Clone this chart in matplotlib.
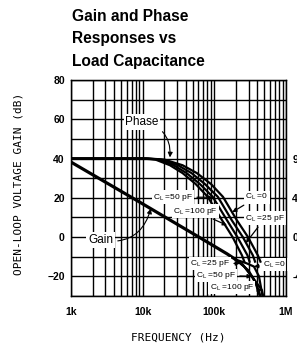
import matplotlib
matplotlib.use("Agg")
import matplotlib.pyplot as plt
from matplotlib.ticker import FixedLocator, NullFormatter, LogLocator

# ── Data ─────────────────────────────────────────────────────────────────────
title_lines = ["Gain and Phase", "Responses vs", "Load Capacitance"]

x_ticks       = [1e3, 1e4, 1e5, 1e6]
x_tick_labels = ["1k", "10k", "100k", "1M"]
y_ticks       = [-20, 0, 20, 40, 60, 80]
phase_ticks   = [40, 20, 0, -20]          # left-axis position of phase labels
phase_labels  = ["90", "45", "0", "-45"]

# common open-loop gain line (dB)
gain_f  = [1e3, 9e3, 61e3, 150e3, 200e3]
gain_db = [38.2, 17.9, 0.0, -8.5, -11.5]

# gain roll-off for each load capacitance
gain_f_0    = [200e3, 280e3, 357e3, 420e3, 470e3]
gain_db_0   = [-11.5, -13.3, -15.0, -20.0, -30.0]
gain_f_25   = [200e3, 228e3, 300e3, 370e3, 430e3]
gain_db_25  = [-11.5, -13.2, -17.0, -22.5, -30.0]
gain_f_50   = [200e3, 250e3, 333e3, 390e3, 440e3]
gain_db_50  = [-11.5, -14.0, -20.0, -24.5, -30.0]
gain_f_100  = [200e3, 260e3, 350e3, 461e3, 480e3]
gain_db_100 = [-11.5, -15.0, -21.0, -27.0, -30.0]

# phase curves, plotted on the left scale (90 deg = 40 dB, 45 deg = 20 dB)
phase_db    = [40, 40, 39.5, 36.6, 32.6, 27.0, 20.5, 8.6, 0.0, -9.3, -12.5]
phase_f_0   = [1e3, 12e3, 20e3, 36e3, 57e3, 90e3, 132e3, 206e3, 295e3, 405e3, 440e3]
phase_f_25  = [1e3, 11.5e3, 18e3, 31e3, 48e3, 74e3, 112e3, 175e3, 250e3, 345e3, 370e3]
phase_f_50  = [1e3, 11e3, 16.5e3, 27e3, 41e3, 63e3, 95e3, 150e3, 210e3, 290e3, 310e3]
phase_f_100 = [1e3, 10e3, 15e3, 24e3, 36e3, 55e3, 81e3, 128e3, 180e3, 243e3, 262e3]

# ── Figure ───────────────────────────────────────────────────────────────────
fig = plt.figure(figsize=(2.97, 3.5), dpi=100)
ax = fig.add_axes([71 / 297, 1 - 296 / 350, 215 / 297, 216 / 350])

ax.set_xscale("log")
ax.set_xlim(1e3, 1e6)
ax.set_ylim(-30, 80)

ax.xaxis.set_major_locator(FixedLocator(x_ticks))
ax.set_xticklabels(x_tick_labels)
ax.xaxis.set_minor_locator(LogLocator(base=10, subs=range(2, 10)))
ax.xaxis.set_minor_formatter(NullFormatter())
ax.yaxis.set_major_locator(FixedLocator(y_ticks))
ax.yaxis.set_minor_locator(FixedLocator(range(-30, 81, 10)))

ax.grid(which="both", color="black", linewidth=1.0)
ax.tick_params(which="both", length=0)
ax.tick_params(axis="x", pad=8)
ax.tick_params(axis="y", pad=4.5)
for lab in ax.get_xticklabels() + ax.get_yticklabels():
    lab.set_fontfamily("Liberation Sans")
    lab.set_fontweight("bold")
    lab.set_fontsize(7.5)
for sp in ax.spines.values():
    sp.set_linewidth(1.0)

ax2 = ax.twinx()
ax2.set_ylim(ax.get_ylim())
ax2.set_yticks(phase_ticks)
ax2.set_yticklabels(phase_labels, fontfamily="Liberation Sans",
                    fontweight="bold", fontsize=7.5)
ax2.tick_params(length=0, pad=4.5)

# ── Curves ───────────────────────────────────────────────────────────────────
ax.plot(gain_f, gain_db, color="black", linewidth=2.3, solid_capstyle="butt")
for f, db in [(gain_f_0, gain_db_0), (gain_f_25, gain_db_25),
              (gain_f_50, gain_db_50), (gain_f_100, gain_db_100)]:
    ax.plot(f, db, color="black", linewidth=1.6)
for f in [phase_f_0, phase_f_25, phase_f_50, phase_f_100]:
    ax.plot(f, phase_db, color="black", linewidth=1.6)

# ── Labels & arrows ──────────────────────────────────────────────────────────
box = dict(boxstyle="square,pad=0.15", facecolor="white", edgecolor="none")
lab_font = dict(family="Liberation Sans", fontsize=8.5, zorder=5)

ax.annotate("Phase", xy=(24e3, 40.6), xytext=(9.8e3, 58.6), ha="center",
            va="center", bbox=box, **lab_font,
            arrowprops=dict(arrowstyle="-|>", color="black", lw=0.8,
                            connectionstyle="arc3,rad=-0.45", shrinkB=0,
                            mutation_scale=7))
ax.annotate("Gain", xy=(13e3, 14.5), xytext=(2.6e3, -1.6), ha="center",
            va="center", bbox=box, **lab_font,
            arrowprops=dict(arrowstyle="-|>", color="black", lw=0.8,
                            connectionstyle="arc3,rad=0.45", shrinkB=0,
                            mutation_scale=7))

cl_font = dict(family="Liberation Sans", fontsize=6.0, zorder=5)
cl_arrow = dict(arrowstyle="-|>", color="black", lw=0.9, shrinkB=0,
                mutation_scale=6)
cl = "C$_\\mathregular{L}$ ="
for text, tip, pos in [
        (cl + "50 pF", (93e3, 20.3), (26.5e3, 20.3)),
        (cl + "100 pF", (150e3, 6.0), (55e3, 13.2)),
        (cl + "0", (178e3, 12.7), (393e3, 20.3)),
        (cl + "25 pF", (275e3, -3.0), (508e3, 9.6)),
        (cl + "25 pF", (228e3, -13.4), (87e3, -13.4)),
        (cl + "50 pF", (333e3, -20.0), (105e3, -19.5)),
        (cl + "100 pF", (461e3, -27.0), (176e3, -25.6)),
        (cl + "0", (357e3, -15.0), (700e3, -13.9))]:
    ax.annotate(text, xy=tip, xytext=pos, ha="center", va="center",
                bbox=box, arrowprops=cl_arrow, **cl_font)

# axis titles
mono = "DejaVu Sans Mono"
fig.text(178.5 / 297, 1 - 338 / 350, "FREQUENCY (Hz)", ha="center",
         va="center", family=mono, fontsize=8)
fig.text(19 / 297, 1 - 184 / 350, "OPEN-LOOP VOLTAGE GAIN (dB)", ha="center",
         va="center", rotation=90, family=mono, fontsize=8)

# chart title
for i, line in enumerate(title_lines):
    fig.text(72 / 297, 1 - (20.7 + 22.5 * i) / 350, line, ha="left",
             va="baseline", family="Liberation Sans", fontweight="bold",
             fontsize=11.2)

fig.savefig("out.png", dpi=100)
